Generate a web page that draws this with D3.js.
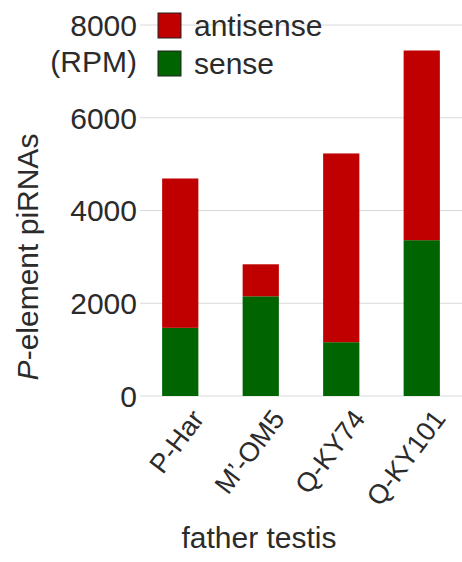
<!DOCTYPE html>
<html><head><meta charset="utf-8">
<script src="https://cdn.jsdelivr.net/npm/d3@7"></script>
<style>body{margin:0;background:#fff}svg{display:block}text{font-family:"Liberation Sans",Arial,sans-serif;fill:#2b2b2b}</style>
</head><body>
<svg id="c" width="462" height="562"></svg>
<script>
const categories = ["P-Har", "M\u2019-OM5", "Q-KY74", "Q-KY101"];
const sense = [1470, 2150, 1160, 3360];
const antisense = [3220, 690, 4070, 4090];
const yTicks = [0, 2000, 4000, 6000, 8000];
const seriesNames = ["antisense", "sense"];
const colors = {antisense: "#c00000", sense: "#006400"};

const svg = d3.select("#c");
const fs = 30;
const x = d3.scaleBand().domain(categories).range([140, 462]).paddingInner(0.55).paddingOuter(0.275);
const y = d3.scaleLinear().domain([0, 8000]).range([396, 25]);

// gridlines
svg.append("g").selectAll("line").data(yTicks).join("line")
  .attr("x1", 140).attr("x2", 462)
  .attr("y1", d => y(d)).attr("y2", d => y(d))
  .attr("stroke", "#d9d9d9").attr("stroke-width", 1.2);

// y tick labels
svg.append("g").selectAll("text").data(yTicks).join("text")
  .attr("x", 137).attr("y", d => y(d)).attr("dy", "0.36em")
  .attr("text-anchor", "end").style("font-size", fs + "px")
  .text(d => d);
svg.append("text").attr("x", 137).attr("y", 72).attr("text-anchor", "end")
  .style("font-size", fs + "px").text("(RPM)");

// stacked bars
const rows = categories.map((c, i) => ({cat: c, sense: sense[i], antisense: antisense[i]}));
const stack = d3.stack().keys(["sense", "antisense"])(rows);
svg.append("g").selectAll("g").data(stack).join("g")
  .attr("fill", d => colors[d.key])
  .selectAll("rect").data(d => d).join("rect")
  .attr("x", d => x(d.data.cat)).attr("width", x.bandwidth())
  .attr("y", d => y(d[1])).attr("height", d => y(d[0]) - y(d[1]));

// x labels
svg.append("g").selectAll("text").data(categories).join("text")
  .attr("transform", d => `translate(${x(d) + x.bandwidth() / 2 + 25},${419}) rotate(-53)`)
  .attr("text-anchor", "end").style("font-size", "27px")
  .text(d => d);

// axis titles
svg.append("text").attr("x", 259).attr("y", 548).attr("text-anchor", "middle")
  .style("font-size", fs + "px").text("father testis");
const yt = svg.append("text").attr("transform", "translate(38,257) rotate(-90)")
  .attr("text-anchor", "middle").style("font-size", fs + "px");
yt.append("tspan").style("font-style", "italic").text("P");
yt.append("tspan").text("-element piRNAs");

// legend
const lg = svg.append("g").selectAll("g").data(seriesNames).join("g")
  .attr("transform", (d, i) => `translate(158,${13 + i * 38})`);
lg.append("rect").attr("width", 23).attr("height", 25)
  .attr("fill", d => colors[d]).attr("stroke", "#222").attr("stroke-width", 1);
lg.append("text").attr("x", 36).attr("y", 23).style("font-size", fs + "px").text(d => d);
</script>
</body></html>
